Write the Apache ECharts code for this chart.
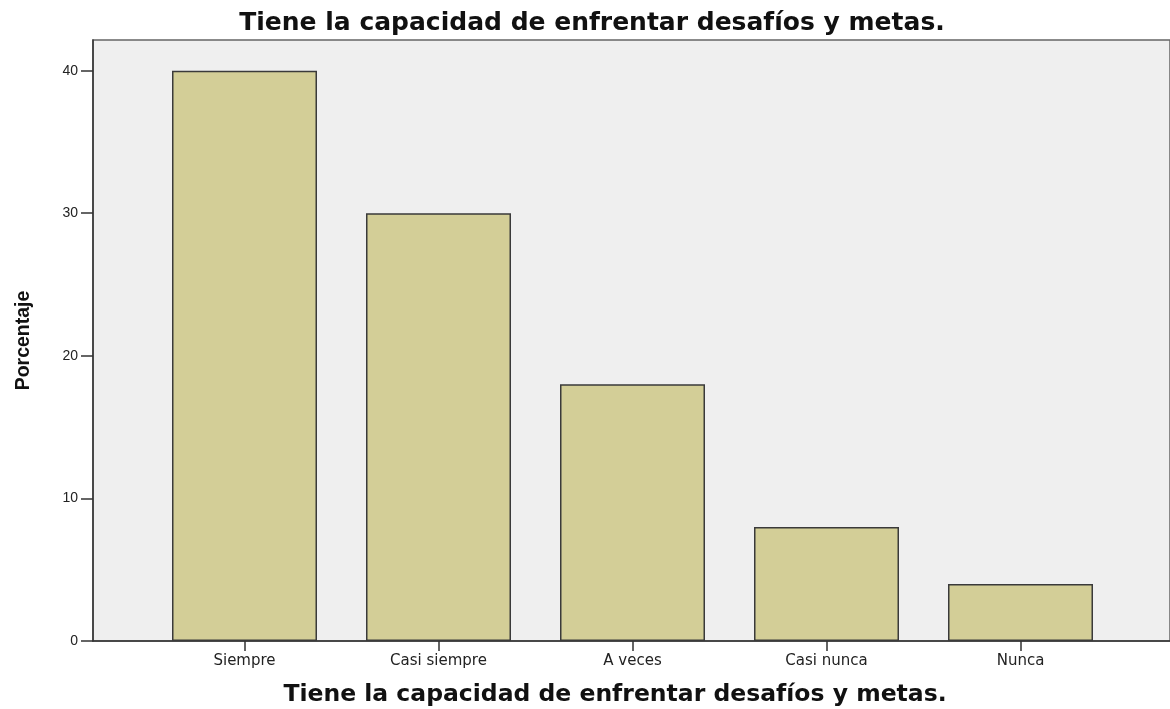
<!DOCTYPE html>
<html>
<head>
<meta charset="utf-8">
<script src="https://cdn.jsdelivr.net/npm/echarts@6/dist/echarts.min.js"></script>
<style>
  html, body { margin: 0; padding: 0; background: #fff; }
  #chart { width: 1170px; height: 709px; }
</style>
</head>
<body>
<div id="chart"></div>
<script>
const titleText = 'Tiene la capacidad de enfrentar desafíos y metas.'
const categories = ['Siempre', 'Casi siempre', 'A veces', 'Casi nunca', 'Nunca']
const percents = [40, 30, 18, 8, 4]
const yTicks = [0, 10, 20, 30, 40]

const chart = echarts.init(document.getElementById('chart'))

// Two grids: the outer one carries the shaded frame and the y axis,
// the inner one holds the bars (SPSS leaves some padding on both sides).
const yMax = 42.15
const boldFont = 'DejaVu Sans, Verdana, sans-serif'

chart.setOption({
  animation: false,
  title: [
    {
      text: titleText,
      left: 587, top: 6, textAlign: 'center',
      textStyle: { fontFamily: boldFont, fontWeight: 'bold', fontSize: 25, color: '#111' },
    },
    {
      text: titleText,
      left: 610, top: 678, textAlign: 'center',
      textStyle: { fontFamily: boldFont, fontWeight: 'bold', fontSize: 23.5, color: '#111' },
    },
  ],
  grid: [
    {
      left: 93, right: 0, top: 40, bottom: 68,
      show: true, backgroundColor: '#efefef', borderColor: '#666', borderWidth: 1.5,
    },
    { left: 147.5, width: 970, top: 40, bottom: 68 },
  ],
  xAxis: [
    {
      gridIndex: 0, type: 'value', min: 0, max: 1,
      axisLine: { show: true, lineStyle: { color: '#333', width: 1.5 } },
      axisTick: { show: false }, axisLabel: { show: false }, splitLine: { show: false },
    },
    {
      gridIndex: 1, type: 'category', data: categories,
      axisLine: { show: false },
      axisTick: { show: true, alignWithLabel: true, length: 10, lineStyle: { color: '#333', width: 1.5 } },
      axisLabel: { fontFamily: 'DejaVu Sans, sans-serif', fontSize: 15, color: '#222', margin: 13 },
    },
  ],
  yAxis: [
    {
      gridIndex: 0, type: 'value', min: 0, max: yMax,
      name: 'Porcentaje', nameLocation: 'middle', nameGap: 59,
      nameTextStyle: { fontFamily: 'Liberation Sans, Arial, sans-serif', fontWeight: 'bold', fontSize: 19.5, color: '#111' },
      axisLine: { show: true, lineStyle: { color: '#333', width: 1.5 } },
      axisTick: { show: true, length: 12, customValues: yTicks, lineStyle: { color: '#333', width: 1.5 } },
      axisLabel: { fontFamily: 'Liberation Sans, Arial, sans-serif', fontSize: 14, color: '#222', margin: 15, customValues: yTicks },
      splitLine: { show: false },
    },
    {
      gridIndex: 1, type: 'value', min: 0, max: yMax, show: false,
    },
  ],
  series: [
    {
      type: 'bar',
      xAxisIndex: 1, yAxisIndex: 1,
      data: percents,
      barWidth: 145,
      itemStyle: { color: '#d3ce97', borderColor: '#3a3a3a', borderWidth: 1.5 },
    },
  ],
})
</script>
</body>
</html>
